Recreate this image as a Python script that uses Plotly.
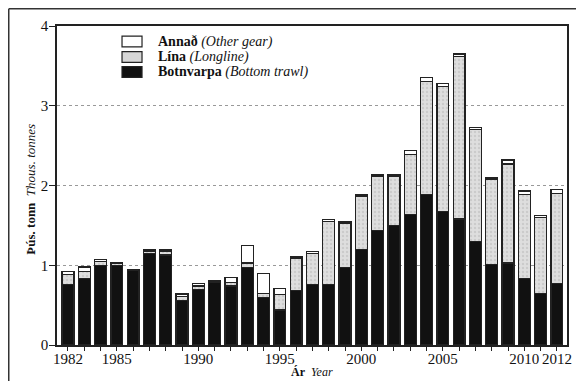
import plotly.graph_objects as go

years = list(range(1982, 2013))
botnvarpa = [0.76, 0.83, 1.00, 1.00, 0.93, 1.15, 1.13, 0.56, 0.70, 0.79, 0.74, 0.97, 0.60, 0.44,
             0.68, 0.76, 0.76, 0.97, 1.20, 1.44, 1.50, 1.64, 1.89, 1.67, 1.58, 1.30, 1.01, 1.03,
             0.83, 0.65, 0.77]
lina = [0.12, 0.09, 0.05, 0.02, 0.01, 0.03, 0.05, 0.05, 0.04, 0.01, 0.04, 0.06, 0.05, 0.19,
        0.41, 0.39, 0.79, 0.56, 0.67, 0.67, 0.62, 0.75, 1.41, 1.57, 2.04, 1.40, 1.07, 1.24,
        1.06, 0.95, 1.13]
annad = [0.04, 0.06, 0.02, 0.01, 0.01, 0.02, 0.02, 0.03, 0.03, 0.01, 0.07, 0.22, 0.25, 0.08,
         0.02, 0.02, 0.02, 0.02, 0.02, 0.02, 0.02, 0.05, 0.05, 0.04, 0.03, 0.03, 0.02, 0.05,
         0.04, 0.02, 0.05]

x_tick_vals = years
x_tick_labels = ["1982", "", "", "1985", "", "", "", "", "1990", "", "", "", "", "1995", "", "", "", "",
                 "2000", "", "", "", "", "2005", "", "", "", "", "2010", "", "2012"]
y_tick_vals = [0, 1, 2, 3, 4]

legend_labels = ["<b>Annað</b> <i>(Other gear)</i>",
                 "<b>Lína</b> <i>(Longline)</i>",
                 "<b>Botnvarpa</b> <i>(Bottom trawl)</i>"]
legend_colors = ["#ffffff", "#d6d6d6", "#111111"]

FONT = "Liberation Serif"
outline = dict(color="#222222", width=1.3)

fig = go.Figure()
fig.add_trace(go.Bar(x=years, y=botnvarpa, marker=dict(color="#111111", line=outline), showlegend=False))
fig.add_trace(go.Bar(x=years, y=lina, marker=dict(color="#d6d6d6", line=outline,
                                                   pattern=dict(shape=".", fgcolor="#b8b8b8", bgcolor="#dedede", size=4, solidity=0.3)),
                     showlegend=False))
fig.add_trace(go.Bar(x=years, y=annad, marker=dict(color="#ffffff", line=outline), showlegend=False))

shapes = []
annotations = []
row_y = [0.9514, 0.9028, 0.8558]
for lab, col, yc in zip(legend_labels, legend_colors, row_y):
    shapes.append(dict(type="rect", xref="paper", yref="paper", x0=0.1275, x1=0.1667,
                       y0=yc - 0.017, y1=yc + 0.017, fillcolor=col, line=dict(color="#222", width=1.2)))
    annotations.append(dict(xref="paper", yref="paper", x=0.194, y=yc, text=lab, showarrow=False,
                            xanchor="left", yanchor="middle", font=dict(family=FONT, size=14, color="#111")))

# axis titles
annotations.append(dict(xref="paper", yref="paper", x=0.5, y=-0.086, text="<b>Ár</b>  <i>Year</i>",
                        showarrow=False, xanchor="center", yanchor="middle",
                        font=dict(family=FONT, size=12, color="#111")))
annotations.append(dict(xref="paper", yref="paper", x=-0.051, y=0.49, text="<b>Þús. tonn</b>  <i>Thous. tonnes</i>",
                        showarrow=False, xanchor="center", yanchor="middle", textangle=-90,
                        font=dict(family=FONT, size=13, color="#111")))

# outer frame (top & left edges of the printed figure box)
shapes.append(dict(type="line", xref="paper", yref="paper", x0=-0.0946, x1=1.1, y0=1.054, y1=1.054,
                   line=dict(color="#333", width=1.5)))
shapes.append(dict(type="line", xref="paper", yref="paper", x0=-0.0946, x1=-0.0946, y0=1.054, y1=-0.2,
                   line=dict(color="#333", width=1.5)))

fig.update_layout(
    barmode="stack",
    bargap=0.27,
    width=576, height=373,
    margin=dict(l=49, r=17, t=18, b=36, autoexpand=False),
    paper_bgcolor="white", plot_bgcolor="white",
    font=dict(family=FONT, size=13, color="#111"),
    shapes=shapes,
    annotations=annotations,
    xaxis=dict(range=[1981.33, 2012.62], tickmode="array", tickvals=x_tick_vals, ticktext=x_tick_labels,
               ticks="outside", ticklen=4, tickcolor="#222", showline=True, linecolor="#222", linewidth=1.5,
               mirror=True, showgrid=False, zeroline=False, tickfont=dict(size=15), automargin=False,
               ticklabelstandoff=-5),
    yaxis=dict(range=[0, 4], tickmode="array", tickvals=y_tick_vals, ticks="outside", ticklen=6,
               tickcolor="#222", showline=True, linecolor="#222", linewidth=1.5, mirror=True,
               showgrid=True, gridcolor="#999", griddash="dot", gridwidth=1, zeroline=False,
               tickfont=dict(size=15), automargin=False, ticklabelstandoff=-2),
)

fig.write_html("out.html")
